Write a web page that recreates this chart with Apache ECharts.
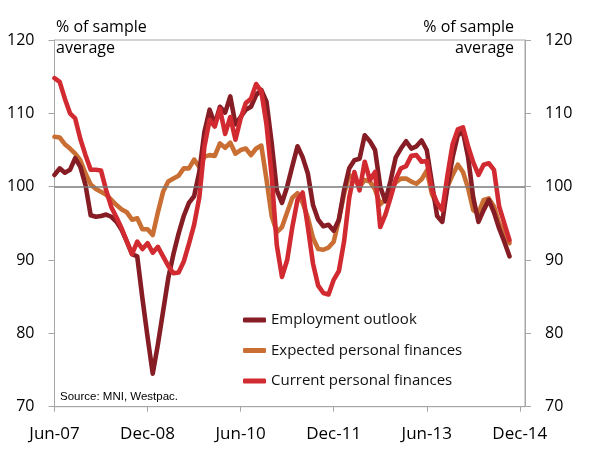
<!DOCTYPE html>
<html>
<head>
<meta charset="utf-8">
<script src="https://cdn.jsdelivr.net/npm/echarts@6/dist/echarts.min.js"></script>
<style>
  html, body { margin: 0; padding: 0; background: #fff; }
  #chart { width: 593px; height: 461px; }
</style>
</head>
<body>
<div id="chart"></div>
<script>
// month labels Jun-07 .. Jan-15
const monthNames = ['Jan', 'Feb', 'Mar', 'Apr', 'May', 'Jun', 'Jul', 'Aug', 'Sep', 'Oct', 'Nov', 'Dec'];
const months = [];
for (let k = 5; k < 5 + 92; k++) {
  const yy = 7 + Math.floor(k / 12);
  months.push(monthNames[k % 12] + '-' + (yy < 10 ? '0' + yy : yy));
}

const yTicks = [70, 80, 90, 100, 110, 120];
const labelStep = 18; // one x label every 18 months

// Employment outlook
const employment = [
  101.6, 102.5, 101.9, 102.3, 103.9, 102.7, 100.2, 96.1, 95.9, 96.0,
  96.2, 95.9, 95.2, 94.1, 92.5, 90.8, 90.5, 84.8, 79.5, 74.5,
  78.5, 83.0, 87.5, 90.8, 93.6, 96.0, 97.8, 98.7, 102.0, 107.5,
  110.5, 108.5, 110.9, 110.1, 112.3, 108.5, 109.5, 110.5, 110.9, 112.5,
  113.2, 111.6, 106.0, 99.5, 97.8, 100.0, 102.8, 105.5, 104.0, 101.8,
  97.5, 95.5, 94.6, 94.8, 94.0, 95.5, 99.5, 102.5, 103.6, 103.8,
  107.0, 106.2, 105.0, 100.0, 98.0, 100.8, 104.0, 105.2, 106.2, 105.2,
  105.5, 106.3, 105.0, 100.5, 96.0, 95.2, 100.0, 104.0, 107.0, 107.5,
  104.0, 98.5, 95.2, 96.8, 98.2, 96.5, 94.3, 92.5, 90.5
];

// Expected personal finances
const expected = [
  106.8, 106.7, 105.8, 105.2, 104.5, 103.6, 101.8, 100.3, 99.7, 99.3,
  98.9, 98.2, 97.5, 96.9, 96.5, 95.5, 95.7, 94.2, 94.2, 93.4,
  96.5, 99.3, 100.7, 101.1, 101.5, 102.5, 102.5, 103.7, 102.7, 104.1,
  104.3, 104.2, 105.9, 105.3, 106.0, 104.5, 105.0, 105.2, 104.3, 105.2,
  105.6, 101.0, 96.0, 93.8, 94.5, 96.5, 98.5, 99.1, 97.8, 95.8,
  93.0, 91.5, 91.4, 91.7, 92.5, 95.5, 99.0, 101.6, 101.0, 100.0,
  100.9, 100.7, 99.6, 97.6, 98.3, 99.5, 100.6, 101.1, 101.1, 100.7,
  100.4, 101.0, 102.2, 99.0, 97.5, 96.9, 100.0, 101.6, 103.0, 102.0,
  99.8, 96.8, 96.4, 98.2, 98.4, 97.3, 95.0, 93.6, 92.3
];

// Current personal finances
const current = [
  114.8, 114.3, 112.0, 110.0, 109.3, 106.5, 104.3, 102.3, 102.3, 102.2,
  99.5, 97.2, 95.8, 94.3, 92.5, 90.8, 92.5, 91.5, 92.3, 91.0,
  91.8, 90.5, 89.2, 88.2, 88.3, 89.8, 92.2, 94.8, 98.5, 105.5,
  109.1, 108.2, 110.6, 107.2, 109.5, 106.4, 109.3, 111.4, 112.0, 114.0,
  113.0, 108.5, 101.5, 92.0, 87.7, 90.0, 94.5, 98.2, 99.2, 94.5,
  89.5, 86.5, 85.5, 85.3, 87.3, 88.5, 92.5, 98.5, 102.0, 99.5,
  103.4, 100.9, 102.0, 94.5, 96.2, 98.5, 101.0, 102.5, 102.8, 104.2,
  104.3, 103.4, 103.5, 99.5, 97.8, 96.8, 101.5, 105.8, 107.8, 108.1,
  105.5, 103.3, 101.6, 103.0, 103.2, 102.3, 97.3, 95.0, 92.7
];

const chart = echarts.init(document.getElementById('chart'));

const font = 'Open Sans';
const axisGrey = '#a6a6a6';

function yAxisDef(pos) {
  return {
    type: 'value',
    position: pos,
    min: yTicks[0],
    max: yTicks[yTicks.length - 1],
    interval: 10,
    axisLine: { show: true, lineStyle: { color: axisGrey, width: 1 } },
    axisTick: { show: true, length: 6, lineStyle: { color: axisGrey } },
    axisLabel: { margin: 20, fontSize: 16, fontFamily: font, color: '#000' },
    splitLine: { show: false }
  };
}

function lineSeries(name, data, color, z) {
  return {
    name: name,
    type: 'line',
    data: data,
    z: z,
    symbol: 'none',
    smooth: false,
    silent: true,
    lineStyle: { color: color, width: 4.6, cap: 'round', join: 'round' },
    itemStyle: { color: color }
  };
}

const everyStep = idx => idx % labelStep === 0;

const option = {
  backgroundColor: '#ffffff',
  animation: false,
  grid: {
    left: 54.5, right: 68, top: 40, bottom: 54.3,
    show: true, borderColor: axisGrey, borderWidth: 1,
    outerBoundsMode: 'none'
  },
  legend: {
    orient: 'vertical',
    left: 243,
    top: 312,
    padding: 0,
    itemGap: 14.5,
    itemWidth: 23,
    itemHeight: 5,
    icon: 'roundRect',
    selectedMode: false,
    textStyle: { fontSize: 15, fontFamily: font, color: '#111', lineHeight: 16 },
    data: ['Employment outlook', 'Expected personal finances', 'Current personal finances']
  },
  xAxis: {
    type: 'category',
    data: months,
    boundaryGap: false,
    axisLine: { show: true, lineStyle: { color: axisGrey } },
    axisTick: { show: true, interval: everyStep, length: 5, lineStyle: { color: axisGrey } },
    axisLabel: {
      interval: everyStep, margin: 19, fontSize: 17, fontFamily: font, color: '#000',
      hideOverlap: false
    },
    splitLine: { show: false }
  },
  yAxis: [yAxisDef('left'), yAxisDef('right')],
  graphic: [
    { type: 'text', left: 56, top: 19, style: { text: '% of sample', fontSize: 16, fontFamily: font, fill: '#000' } },
    { type: 'text', left: 56, top: 40, style: { text: 'average', fontSize: 16, fontFamily: font, fill: '#000' } },
    { type: 'text', right: 79, top: 19, style: { text: '% of sample', fontSize: 16, fontFamily: font, fill: '#000' } },
    { type: 'text', right: 79, top: 40, style: { text: 'average', fontSize: 16, fontFamily: font, fill: '#000' } },
    { type: 'text', left: 60, top: 391, style: { text: 'Source: MNI, Westpac.', fontSize: 11.5, fontFamily: 'Liberation Sans', fill: '#000' } }
  ],
  series: [
    lineSeries('Employment outlook', employment, '#861d25', 3),
    Object.assign(lineSeries('Expected personal finances', expected, '#c96f33', 2), {
      markLine: {
        silent: true,
        symbol: 'none',
        label: { show: false },
        lineStyle: { color: '#7a7a7a', width: 1.5, type: 'solid' },
        data: [{ yAxis: 100 }]
      }
    }),
    lineSeries('Current personal finances', current, '#d22a31', 4)
  ]
};

chart.setOption(option);
</script>
</body>
</html>
